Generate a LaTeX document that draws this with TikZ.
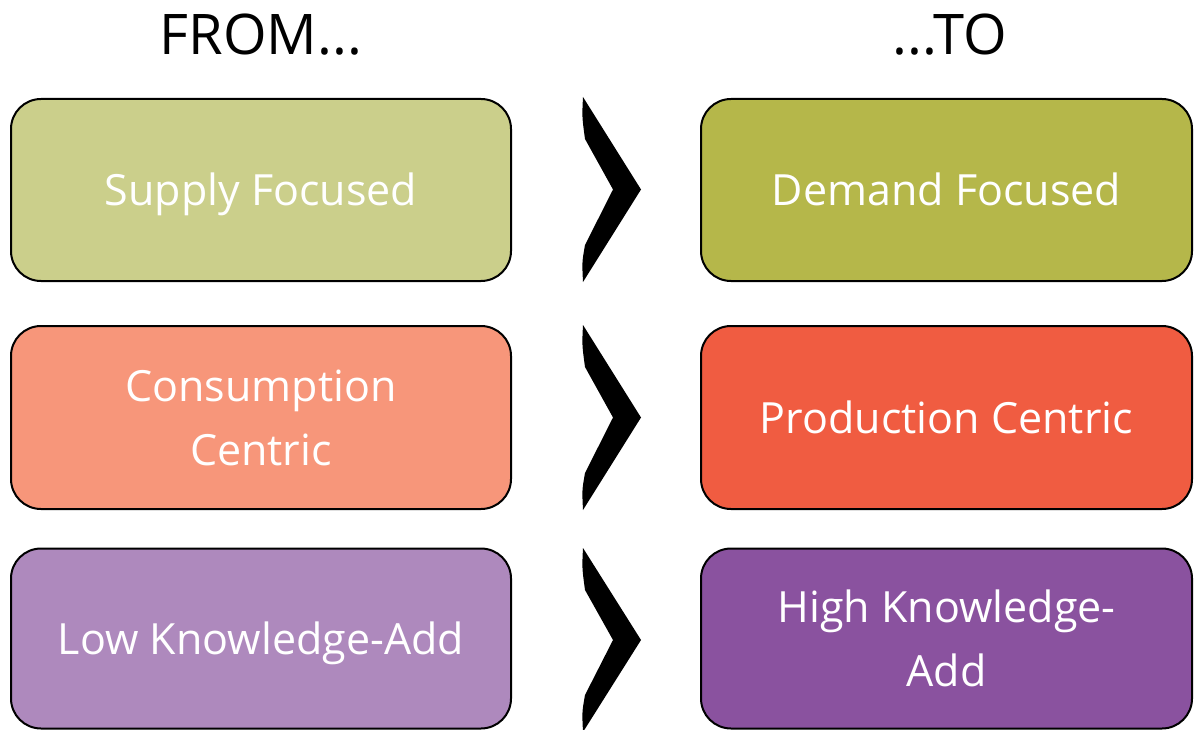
\documentclass[tikz,border=0pt]{standalone}
\usepackage{fontspec}
\setmainfont{Open Sans}
\definecolor{oliveL}{RGB}{203,207,139}
\definecolor{oliveD}{RGB}{181,183,74}
\definecolor{salmonL}{RGB}{247,150,122}
\definecolor{salmonD}{RGB}{240,92,65}
\definecolor{purpL}{RGB}{174,137,189}
\definecolor{purpD}{RGB}{138,82,159}
\begin{document}
\begin{tikzpicture}[x=1pt,y=-1pt,
  box/.style={draw=black, line width=2pt, rounded corners=30pt, text=white,
    align=center, inner sep=0pt, font=\fontsize{43}{64}\selectfont},
  one/.style={text height=31pt, text depth=0pt},
  lbox/.style={box, minimum width=500pt},
  rbox/.style={box, minimum width=491pt},
  title/.style={font=\fontsize{56}{68}\selectfont, anchor=base}]
\useasboundingbox (0,0) rectangle (1194,730);
\node[title] (from) at (261,55) {FROM...};
\node[title] (to) at (950,55) {...TO};
% row 1
\node[lbox, one, fill=oliveL, minimum height=182pt] (supply) at (261,190) {Supply Focused};
\node[rbox, one, fill=oliveD, minimum height=182pt] (demand) at (946.5,190) {Demand Focused};
% row 2
\node[lbox, fill=salmonL, minimum height=183pt] (consumption) at (261,417.5) {Consumption\\Centric};
\node[rbox, one, fill=salmonD, minimum height=183pt] (production) at (946.5,417.5) {Production Centric};
% row 3
\node[lbox, one, fill=purpL, minimum height=180pt] (low) at (261,638.5) {Low Knowledge-Add};
\node[rbox, fill=purpD, minimum height=180pt] (high) at (946.5,638.5) {High Knowledge-\\Add};
% chevrons
\foreach \t/\b in {97/282, 325/510, 548/732}{
  \pgfmathsetmacro\m{(\t+\b)/2}
  \fill[black] (583,\t) -- (641,\m) -- (583,\b)
    .. controls (582,\b-20) .. (585,\b-37) -- (613,\m) -- (585,\t+42)
    .. controls (582,\t+20) .. cycle;
}
\end{tikzpicture}
\end{document}
